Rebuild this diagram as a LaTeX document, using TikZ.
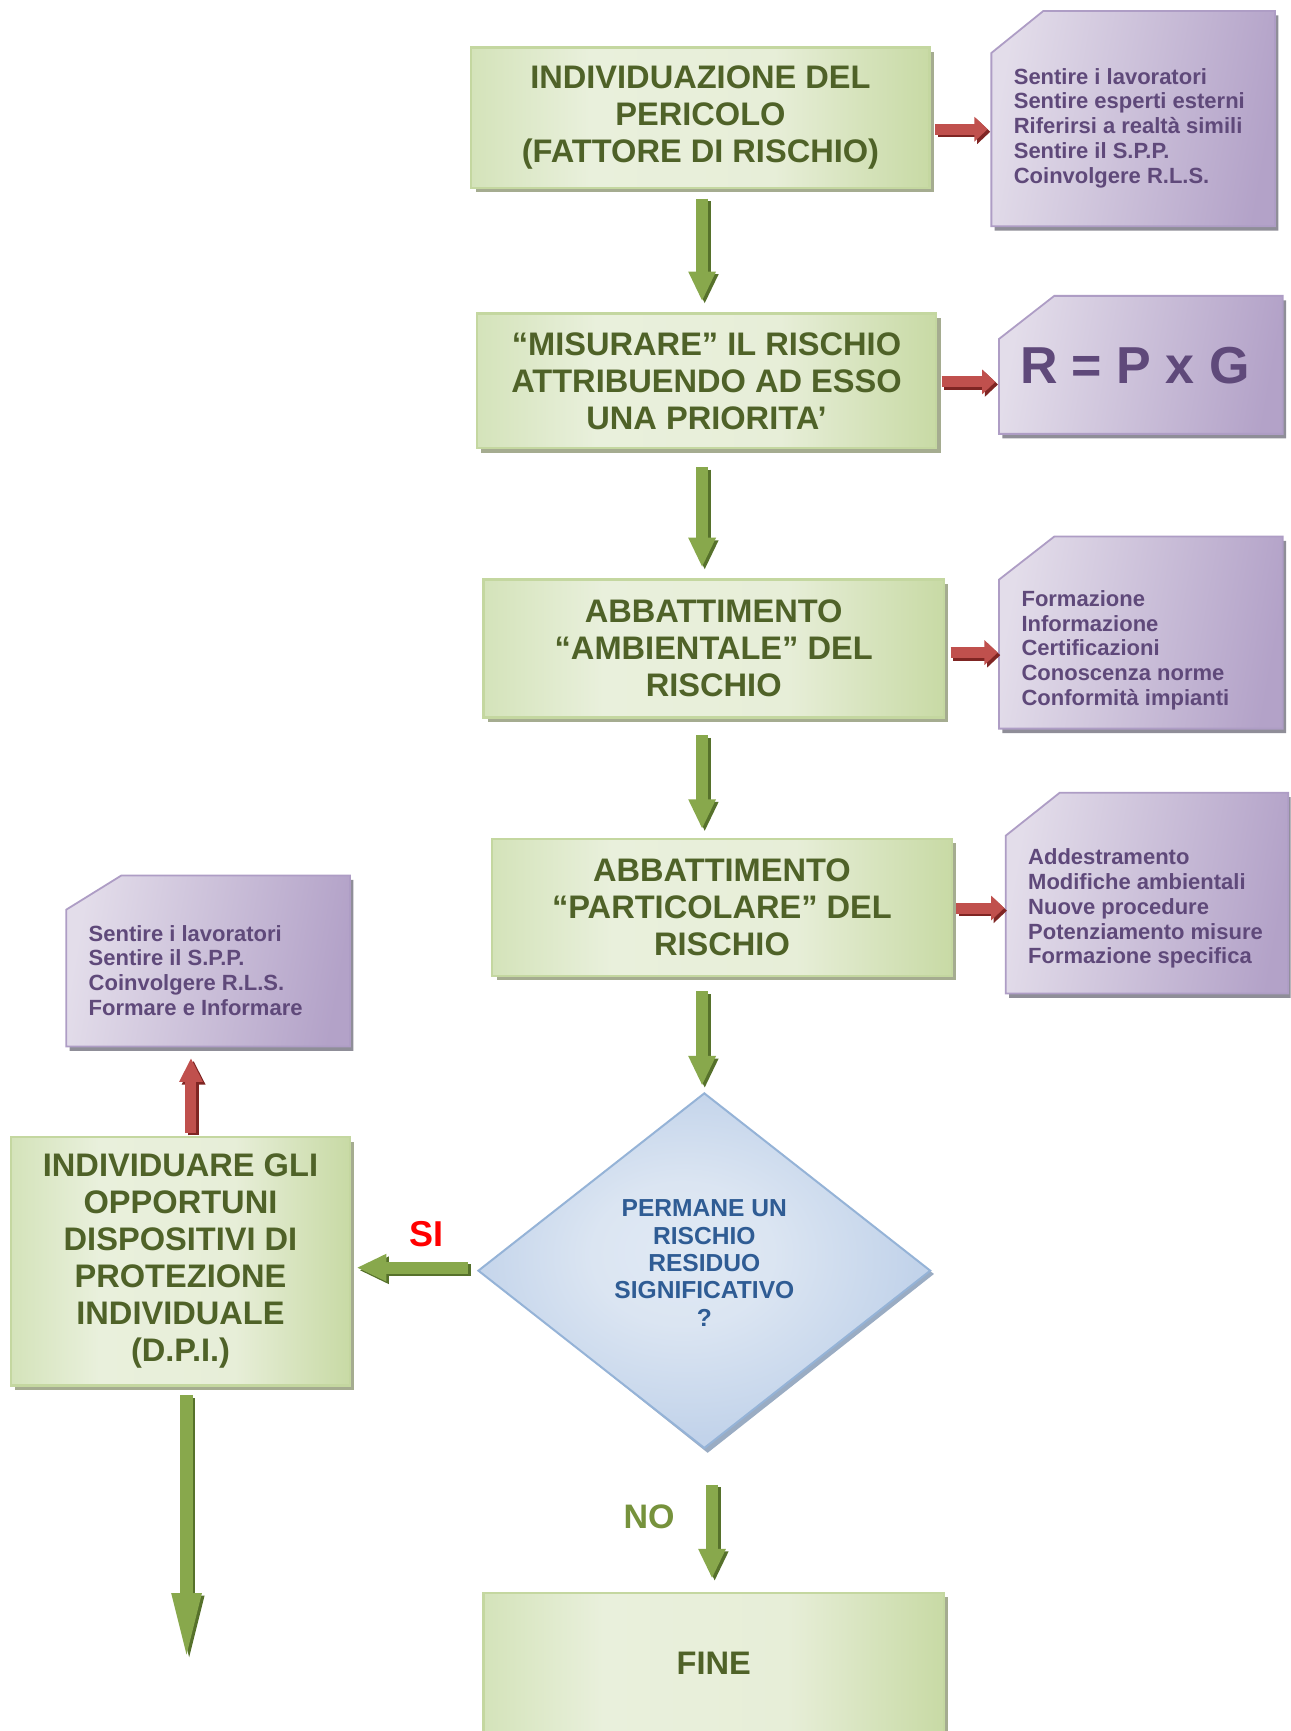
\documentclass[tikz,border=0pt]{standalone}
\usepackage{fontspec}
\setmainfont{Liberation Sans}
\usetikzlibrary{arrows.meta,calc,shapes.geometric}

\definecolor{gtext}{HTML}{4F6228}
\definecolor{gborder}{HTML}{C4D7A0}
\definecolor{gshadow}{HTML}{A5AC90}
\definecolor{pfillA}{HTML}{E3DDEA}
\definecolor{pfillM}{HTML}{EAE6F0}
\definecolor{pfillB}{HTML}{B3A2C8}
\definecolor{pborder}{HTML}{AE9DC5}
\definecolor{pshadow}{HTML}{8F8E98}
\definecolor{ptext}{HTML}{5F497A}
\definecolor{dborder}{HTML}{95B3D7}
\definecolor{dshadow}{HTML}{9AACC3}
\definecolor{dtext}{HTML}{2F5C94}
\definecolor{garrowL}{HTML}{88A84C}
\definecolor{garrowD}{HTML}{56712B}
\definecolor{rarrowL}{HTML}{C0504D}
\definecolor{rarrowD}{HTML}{7F2523}
\definecolor{notext}{HTML}{76923C}

\pgfdeclarehorizontalshading{gshade}{100bp}{%
  color(0bp)=(rgb,255:red,212;green,227;blue,186);
  color(25bp)=(rgb,255:red,212;green,227;blue,186);
  color(38bp)=(rgb,255:red,233;green,240;blue,220);
  color(58bp)=(rgb,255:red,231;green,238;blue,216);
  color(75bp)=(rgb,255:red,200;green,218;blue,165);
  color(100bp)=(rgb,255:red,200;green,218;blue,165)}
\pgfdeclareradialshading{dshade}{\pgfpoint{-3bp}{3bp}}{%
  color(0bp)=(rgb,255:red,224;green,233;blue,244);
  color(10bp)=(rgb,255:red,219;green,229;blue,242);
  color(25bp)=(rgb,255:red,194;green,211;blue,234);
  color(50bp)=(rgb,255:red,194;green,211;blue,234)}

\newcommand\greenbox[6]{%
  \fill[gshadow] (#2+4,#3+4) rectangle (#4+4,#5+4);
  \node[gboxst, minimum width={(#4-#2)*0.5522pt}, minimum height={(#5-#3)*0.5522pt}] (#1) at ({(#2+#4)/2},{(#3+#5)/2}) {#6};}

\newcommand\purplebox[7]{%
  \fill[pshadow] (#2+3,#3+#7+4) -- (#2+#6+3,#3+4) -- (#4+3,#3+4) -- (#4+3,#5+4) -- (#2+3,#5+4) -- cycle;
  \path[pfillst] (#2,#3+#7) -- (#2+#6,#3) -- (#4,#3) -- (#4,#5) -- (#2,#5) -- cycle;
  \node[pnode, minimum width={(#4-#2)*0.5522pt}, minimum height={(#5-#3)*0.5522pt}] (#1) at ({(#2+#4)/2},{(#3+#5)/2}) {};}

\newcommand\fatarrow[4]{% style, options, from, to
  \draw[#1, #2, draw=#1D, transform canvas={xshift=1.3pt,yshift=-1.3pt}] #3 -- #4;
  \draw[#1, #2, draw=#1L] #3 -- #4;}

\begin{document}
\begin{tikzpicture}[x=0.5522pt,y=-0.5522pt,
  gboxst/.style={rectangle, inner sep=0pt, draw=gborder, line width=1.1pt,
    shading=gshade, text=gtext, align=center, font=\bfseries\fontsize{16.3}{18.5}\selectfont},
  pfillst/.style={draw=pborder, line width=0.9pt, left color=pfillA, middle color=pfillM, right color=pfillB, shading angle=80},
  pnode/.style={rectangle, inner sep=0pt},
  ptextst/.style={anchor=west, inner sep=0pt, align=left, text=ptext, font=\bfseries\fontsize{11}{12.4}\selectfont},
  dmdst/.style={diamond, inner sep=0pt, aspect=1.273, minimum width=410*0.5522pt, minimum height=322*0.5522pt,
    draw=dborder, line width=1pt, shading=dshade},
  garrow/.style={line width=6.1pt, -{Triangle[width=12.7pt,length=14.9pt]}},
  rarrow/.style={line width=5.5pt, -{Triangle[width=12pt,length=6.6pt]}},
]
\useasboundingbox (0,0) rectangle (1169,1568);
\clip (0,0) rectangle (1169,1568);
\fill[white] (0,0) rectangle (1169,1568);

% green boxes
\greenbox{b1}{427}{43}{842}{170}{INDIVIDUAZIONE DEL\\PERICOLO\\(FATTORE DI RISCHIO)}
\greenbox{b2}{432}{284}{848}{406}{“MISURARE” IL RISCHIO\\ATTRIBUENDO AD ESSO\\UNA PRIORITA’}
\greenbox{b3}{438}{525}{855}{650}{ABBATTIMENTO\\“AMBIENTALE” DEL\\RISCHIO}
\greenbox{b4}{446}{760}{862}{884}{ABBATTIMENTO\\“PARTICOLARE” DEL\\RISCHIO}
\greenbox{dpi}{10}{1030}{317}{1255}{INDIVIDUARE GLI\\OPPORTUNI\\DISPOSITIVI DI\\PROTEZIONE\\INDIVIDUALE\\(D.P.I.)}
\greenbox{fine}{438}{1443}{855}{1570}{FINE}

% purple boxes
\purplebox{p1}{898}{10}{1155}{205}{47}{38}
\purplebox{p2}{905}{268}{1162}{393}{50}{39}
\purplebox{p3}{905}{486}{1162}{660}{50}{39}
\purplebox{p4}{911}{718}{1167}{900}{49}{39}
\purplebox{pl}{60}{793}{317}{948}{50}{31}

\node[ptextst] (p1t) at (918,116) {Sentire i lavoratori\\Sentire esperti esterni\\Riferirsi a realtà simili\\Sentire il S.P.P.\\Coinvolgere R.L.S.};
\node[inner sep=0pt, text=ptext, font=\bfseries\fontsize{26}{30}\selectfont] (rpg) at (1028,331) {R = P x G};
\node[ptextst] (p3t) at (925,589) {Formazione\\Informazione\\Certificazioni\\Conoscenza norme\\Conformità impianti};
\node[ptextst] (p4t) at (931,823) {Addestramento\\Modifiche ambientali\\Nuove procedure\\Potenziamento misure\\Formazione specifica};
\node[ptextst] (plt) at (80,879) {Sentire i lavoratori\\Sentire il S.P.P.\\Coinvolgere R.L.S.\\Formare e Informare};

% decision diamond
\fill[dshadow] (640,994) -- (846,1154) -- (641,1316) -- (436,1152) -- cycle;
\node[dmdst] (dmd) at (638,1151) {};
\node[inner sep=0pt, align=center, text=dtext, font=\bfseries\fontsize{12.3}{13.7}\selectfont] (dmdt) at (638,1144) {PERMANE UN\\RISCHIO\\RESIDUO\\SIGNIFICATIVO\\?};

% labels
\node[inner sep=0pt, text=red, font=\bfseries\fontsize{18}{20}\selectfont] (si) at (386,1118) {SI};
\node[inner sep=0pt, text=notext, font=\bfseries\fontsize{17}{20}\selectfont] (no) at (588,1374) {NO};

% helper coordinates
\coordinate (col) at (636,0);
\coordinate (col2) at (645,0);
\coordinate (rcol) at (173,0);
\coordinate (dend) at (169,1505);
\coordinate (r1) at ([yshift=-5.8pt]b1.east);
\coordinate (r2) at ([yshift=-0.5pt]b2.east);
\coordinate (r3) at ([yshift=-2pt]b3.east);
\coordinate (r4) at ([yshift=-0.3pt]b4.east);
\coordinate (s1) at ([yshift=1.5pt]dmd.west);

% green connectors
\fatarrow{garrow}{shorten <=4.97pt, shorten >=5.52pt}{(b1.south -| col)}{(b2.north -| col)}
\fatarrow{garrow}{shorten <=8.8pt, shorten >=5.52pt}{(b2.south -| col)}{(b3.north -| col)}
\fatarrow{garrow}{shorten <=8.3pt, shorten >=4.42pt}{(b3.south -| col)}{(b4.north -| col)}
\fatarrow{garrow}{shorten <=7.2pt, shorten >=3.09pt}{(b4.south -| col)}{(dmd.north -| col)}
\fatarrow{garrow}{shorten <=17.67pt, shorten >=6.63pt}{(dmd.south -| col2)}{(fine.north -| col2)}
\fatarrow{garrow}{shorten <=4.42pt, shorten >=2.76pt}{(s1)}{(s1 -| dpi.east)}
\fatarrow{garrow}{shorten <=4.42pt, -{Triangle[width=13.3pt,length=34.2pt]}}{(dpi.south -| dend)}{(dend)}

% red connectors
\fatarrow{rarrow}{shorten <=2.2pt, shorten >=1.66pt}{(r1)}{(r1 -| p1.west)}
\fatarrow{rarrow}{shorten <=2.2pt, shorten >=1.66pt}{(r2)}{(r2 -| p2.west)}
\fatarrow{rarrow}{shorten <=2.76pt, shorten >=0.5pt}{(r3)}{(r3 -| p3.west)}
\fatarrow{rarrow}{shorten <=1.66pt, shorten >=0.5pt}{(r4)}{(r4 -| p4.west)}
\fatarrow{rarrow}{shorten <=1.66pt, shorten >=5.5pt, -{Triangle[width=11pt,length=12pt]}}{(dpi.north -| rcol)}{(pl.south -| rcol)}
\end{tikzpicture}
\end{document}
